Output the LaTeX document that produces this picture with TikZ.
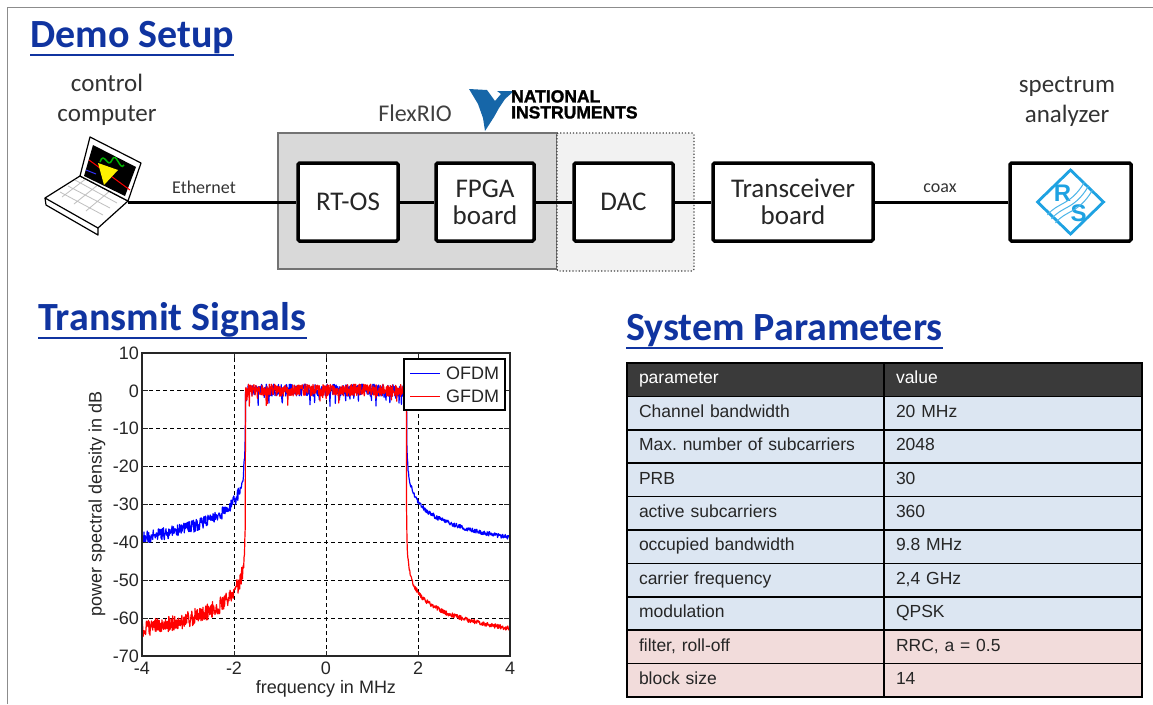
\documentclass[tikz,border=0pt]{standalone}
\usepackage{fontspec}
\setmainfont{Carlito}
\newfontfamily\plotfont{Liberation Sans}
\newfontfamily\nifont[FakeBold=1.6]{Liberation Sans Bold}
\usetikzlibrary{positioning,calc}

\definecolor{headblue}{RGB}{16,52,160}
\definecolor{niblue}{RGB}{22,102,168}
\definecolor{rsblue}{RGB}{30,162,226}
\definecolor{rowblue}{RGB}{220,230,242}
\definecolor{rowpink}{RGB}{242,220,219}
\definecolor{headgray}{RGB}{58,58,58}
\definecolor{riogray}{RGB}{217,217,217}

\begin{document}
\begin{tikzpicture}[x=1pt, y=-1pt,
    heading/.style={anchor=base west, inner sep=0pt, text=headblue,
                    font=\fontsize{40}{46}\selectfont\bfseries},
    devname/.style={align=center, text=black!80, font=\fontsize{25}{30}\selectfont},
    block/.style={draw, line width=3.5pt, rounded corners=1.5pt, fill=white, align=center,
                  minimum height=78pt, text=black!85, font=\fontsize{27}{29}\selectfont},
    cable/.style={line width=3pt},
    cablename/.style={text=black!80, font=\fontsize{18}{20}\selectfont},
    pcell/.style={draw=black, line width=1.5pt, anchor=north west, align=left,
                  minimum height=33.4pt, inner xsep=12pt, inner ysep=0pt, outer sep=0pt,
                  text height=12.5pt, text depth=4pt, text=black!85,
                  font=\plotfont\fontsize{17.5}{20}\selectfont},
    pname/.style={pcell, text width=233pt},
    pvalue/.style={pcell, text width=234pt},
    tick/.style={font=\plotfont\fontsize{18}{20}\selectfont, text=black!85},
    psd/.style={line width=1.2pt, line join=round}
]
  \useasboundingbox (0,0) rectangle (1153,704);
  \draw[black!45, line width=1pt] (7,704) -- (7,7) -- (1153,7);

  % headings
  \node[heading] (demo) at (30,47) {Demo Setup};
  \node[heading] (signals) at (38,330) {Transmit Signals};
  \node[heading] (params) at (626,340) {System Parameters};
  \foreach \h in {demo,signals,params}
    \draw[headblue, line width=2pt] ([yshift=-7.5pt]\h.base west) -- ([yshift=-7.5pt]\h.base east);

  % FlexRIO chassis and the DAC module
  \draw[fill=riogray, draw=black!55, line width=1.2pt] (278,133) rectangle (557,269);
  \draw[fill=black!5, draw=black!75, line width=1.2pt, dotted, rounded corners=2pt]
    (557,133) rectangle (694,271);
  \node[devname, text=black!75, font=\fontsize{24}{28}\selectfont] (rio) at (415,113) {FlexRIO};

  % NI logo
  \fill[niblue] (469,89) -- (487,90) -- (495,101) -- (501,94) -- (497,91) -- (514,91)
    -- (505,99) -- (499,108) -- (494,117) -- (485,131) -- (483,118) -- (478,104) -- cycle;
  \node[anchor=north west, align=left, inner sep=0pt,
        font=\nifont\fontsize{17.5}{16}\selectfont] (nitext) at (511,90)
    {NATIONAL\\INSTRUMENTS};

  % devices
  \node[block, minimum width=100pt] (rtos) at (348,202) {RT-OS};
  \node[block, minimum width=98pt] (fpga) at (485,202) {FPGA\\[-2pt]board};
  \node[block, minimum width=99pt] (dac) at (623.5,202) {DAC};
  \node[block, minimum width=160pt] (trx) at (793,202) {Transceiver\\[-2pt]board};
  \node[block, minimum width=121pt, minimum height=78pt] (sa) at (1070.5,202) {};

  \node[devname] (pcname) at (107,100) {control\\computer};
  \node[devname] (saname) at (1067,102) {spectrum\\analyzer};

  % laptop
  \coordinate (lapjack) at (128,202);
  \draw[cable] (lapjack) -- (rtos);
  \draw[fill=white, line width=1.2pt, line join=round]
    (80,176) -- (128,201) -- (98,228) -- (45,198) -- cycle;
  \draw[line width=1.2pt, line join=round] (45,198) -- (46,205) -- (98,235) -- (98,228);
  \draw[black!25, line width=0.8pt]
    (60,192) -- (103,215) (68,186) -- (110,208) (75,180) -- (117,203)
    (62,197) -- (87,178) (74,204) -- (99,184) (86,211) -- (111,190);
  \draw[fill=white, line width=1.2pt, line join=round]
    (90,137) -- (141,163) -- (128,201) -- (80,176) -- cycle;
  \fill[black] (93,145) -- (136,167) -- (125,196) -- (84,176) -- cycle;
  \draw[red, line width=1pt] (89,160) -- (130,190);
  \draw[green!70!black, line width=1.5pt]
    (100,162) .. controls (104,150) and (108,170) .. (112,160)
              .. controls (116,150) and (120,172) .. (124,165);
  \fill[yellow] (98,163) -- (118,170) -- (104,185) -- cycle;
  \draw[blue!80, line width=1pt] (86,170) -- (96,174);

  % cables
  \draw[cable] (rtos) -- (fpga);
  \draw[cable] (fpga) -- (dac);
  \draw[cable] (dac) -- (trx);
  \draw[cable] (trx) -- (sa);
  \node[cablename] (ethname) at (204,187) {Ethernet};
  \node[cablename] (coaxname) at (940,188) {coax};

  % R&S logo
  \begin{scope}[shift={(sa.center)}]
    \draw[rsblue, line width=2.8pt, line join=miter] (0,-32) -- (33,0) -- (0,32) -- (-33,0) -- cycle;
    \node[text=rsblue, inner sep=0pt, font=\plotfont\fontsize{24}{24}\selectfont\bfseries]
      (rsr) at (-8,-9) {R};
    \node[text=rsblue, inner sep=0pt, font=\plotfont\fontsize{24}{24}\selectfont\bfseries]
      (rss) at (8,11) {S};
    \foreach \s in {-4,0,4}
      \draw[rsblue!80, line width=1pt]
        ($(-19,17)+(\s,\s)$) .. controls ($(-9,4)+(\s,\s)$) and ($(4,8)+(\s,\s)$) .. ($(18,-16)+(\s,\s)$);
  \end{scope}

  % power spectral density plot
  \coordinate (plotorigin) at (326,390.9);
  \begin{scope}[shift={(plotorigin)}, x=46pt, y=3.7875pt]
    \foreach \f in {-2,0,2}
      \draw[dash pattern=on 4pt off 3pt, line width=0.9pt] (\f,-70) -- (\f,10);
    \foreach \p in {0,-10,...,-60}
      \draw[dash pattern=on 4pt off 3pt, line width=0.9pt] (-4,\p) -- (4,\p);

    \pgfmathsetseed{17}
    \begin{scope}
      \clip (-4,-70) rectangle (4,10);
      \draw[psd, blue]
        plot[domain=-4:-1.75, samples=260] (\x,{-10*log10(1+3300*(-1.75-\x))+1.6*rand})
        -- plot[domain=-1.75:1.75, samples=420] (\x,{0.2+1.6*rand-3.5*(rand>0.8)*abs(rand)})
        -- plot[domain=1.75:4, samples=260] (\x,{-10*log10(1+3300*(\x-1.75))+0.6*rand});
      \draw[psd, red]
        plot[domain=-4:-1.7515, samples=260] (\x,{-59.2-10*log10(-1.75-\x)+2.2*rand})
        -- plot[domain=-1.75:1.75, samples=420] (\x,{0.2+1.6*rand-3.5*(rand>0.8)*abs(rand)})
        -- plot[domain=1.7515:4, samples=260] (\x,{-59.2-10*log10(\x-1.75)+0.6*rand});
    \end{scope}

    \draw[black!85, line width=1.3pt] (-4,-70) rectangle (4,10);
    \foreach \f in {-4,-2,0,2,4} {
      \draw[black!85, line width=1pt] (\f,-70) -- (\f,-68.6) (\f,10) -- (\f,8.6);
      \node[tick, anchor=north, inner sep=6pt] (xt\f) at (\f,-70) {\f};
    }
    \foreach \p in {10,0,-10,...,-70} {
      \draw[black!85, line width=1pt] (-4,\p) -- (-3.88,\p) (4,\p) -- (3.88,\p);
      \node[tick, anchor=east, inner sep=3pt] (yt\p) at (-4,\p) {\p};
    }
    \node[tick] (xname) at (0,-78.6) {frequency in MHz};
    \node[tick, rotate=90] (yname) at (-4.98,-29.86) {power spectral density in dB};
  \end{scope}

  % legend
  \draw[fill=white, line width=1.2pt] (404,359) rectangle (505,410);
  \coordinate (ofdmleg) at (410,373);
  \coordinate (gfdmleg) at (410,396);
  \draw[blue, line width=1pt] (ofdmleg) -- ++(30,0);
  \draw[red, line width=1pt] (gfdmleg) -- ++(30,0);
  \node[tick, anchor=west, inner sep=0pt] (ofdmname) at (446,373) {OFDM};
  \node[tick, anchor=west, inner sep=0pt] (gfdmname) at (446,396) {GFDM};

  % parameter table
  \node[pname, fill=headgray, text=white] (h0) at (627,363) {parameter};
  \node[pvalue, fill=headgray, text=white, right=0pt of h0] (v0) {value};
  \node[pname, fill=rowblue, below=0pt of h0] (h1) {Channel bandwidth};
  \node[pvalue, fill=rowblue, right=0pt of h1] (v1) {20 MHz};
  \node[pname, fill=rowblue, below=0pt of h1] (h2) {Max.\ number of subcarriers};
  \node[pvalue, fill=rowblue, right=0pt of h2] (v2) {2048};
  \node[pname, fill=rowblue, below=0pt of h2] (h3) {PRB};
  \node[pvalue, fill=rowblue, right=0pt of h3] (v3) {30};
  \node[pname, fill=rowblue, below=0pt of h3] (h4) {active subcarriers};
  \node[pvalue, fill=rowblue, right=0pt of h4] (v4) {360};
  \node[pname, fill=rowblue, below=0pt of h4] (h5) {occupied bandwidth};
  \node[pvalue, fill=rowblue, right=0pt of h5] (v5) {9.8 MHz};
  \node[pname, fill=rowblue, below=0pt of h5] (h6) {carrier frequency};
  \node[pvalue, fill=rowblue, right=0pt of h6] (v6) {2,4 GHz};
  \node[pname, fill=rowblue, below=0pt of h6] (h7) {modulation};
  \node[pvalue, fill=rowblue, right=0pt of h7] (v7) {QPSK};
  \node[pname, fill=rowpink, below=0pt of h7] (h8) {filter, roll-off};
  \node[pvalue, fill=rowpink, right=0pt of h8] (v8) {RRC, a = 0.5};
  \node[pname, fill=rowpink, below=0pt of h8] (h9) {block size};
  \node[pvalue, fill=rowpink, right=0pt of h9] (v9) {14};
\end{tikzpicture}
\end{document}
